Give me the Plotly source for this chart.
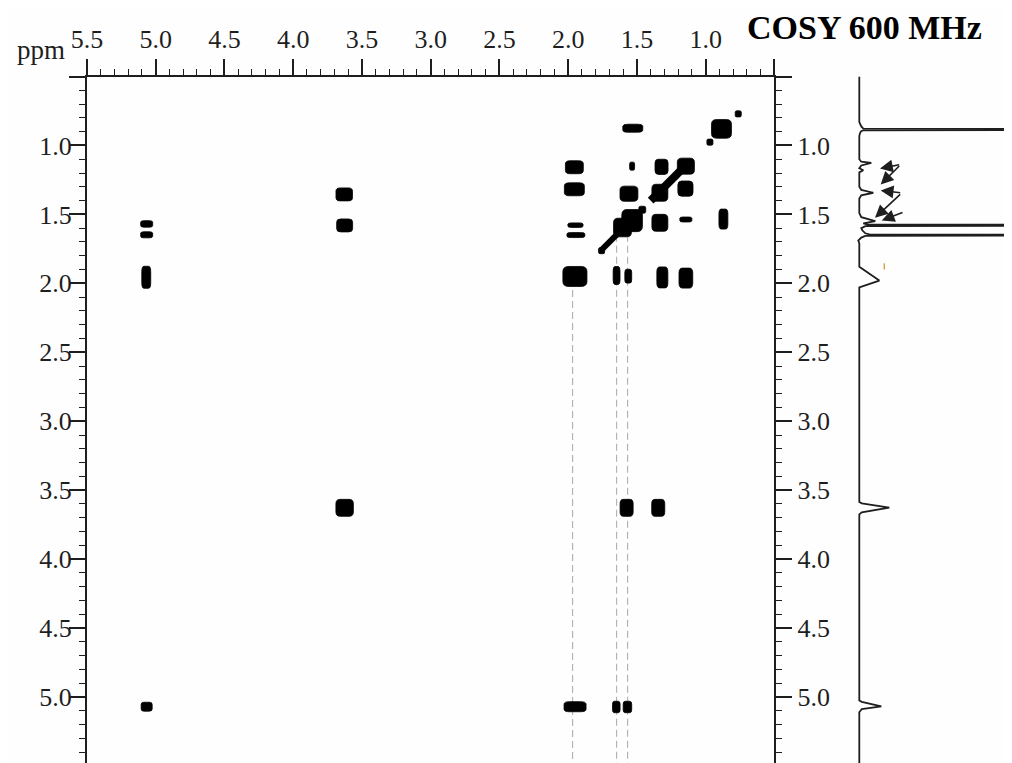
import plotly.graph_objects as go

# ---------------- data ----------------
# 2D COSY cross/diagonal peaks: F2 shift (x, ppm), F1 shift (y, ppm), width/height (ppm)
peak_f2 = [1.530, 0.885, 0.969, 0.763, 1.955, 1.955, 1.947, 1.944, 1.951, 1.535,
           1.558, 1.321, 1.144, 1.147, 1.333, 1.461, 1.535, 1.605, 1.757, 1.333,
           1.144, 0.871, 1.648, 1.563, 1.315, 1.144, 5.066, 5.066, 5.069, 5.066,
           3.629, 3.626, 3.626, 1.575, 1.345, 1.950, 1.650, 1.569]
peak_f1 = [0.875, 0.880, 0.976, 0.771, 1.158, 1.318, 1.578, 1.650, 1.950, 1.150,
           1.350, 1.155, 1.150, 1.313, 1.343, 1.466, 1.545, 1.595, 1.763, 1.561,
           1.537, 1.534, 1.943, 1.948, 1.957, 1.962, 1.569, 1.648, 1.956, 5.070,
           1.355, 1.580, 3.628, 3.628, 3.628, 5.070, 5.072, 5.072]
peak_w = [0.145, 0.145, 0.044, 0.044, 0.130, 0.145, 0.110, 0.130, 0.175, 0.036,
          0.130, 0.095, 0.124, 0.110, 0.116, 0.050, 0.150, 0.130, 0.044, 0.116,
          0.087, 0.065, 0.050, 0.050, 0.080, 0.100, 0.087, 0.087, 0.065, 0.080,
          0.120, 0.116, 0.127, 0.095, 0.095, 0.160, 0.055, 0.062]
peak_h = [0.058, 0.135, 0.044, 0.044, 0.094, 0.094, 0.033, 0.036, 0.145, 0.058,
          0.110, 0.110, 0.116, 0.110, 0.123, 0.050, 0.160, 0.135, 0.044, 0.123,
          0.036, 0.145, 0.130, 0.100, 0.152, 0.145, 0.047, 0.044, 0.160, 0.065,
          0.094, 0.094, 0.123, 0.123, 0.123, 0.073, 0.083, 0.083]

# diagonal ridges (ppm from -> to, along the diagonal)
diag_from = [1.13, 1.50]
diag_to = [1.40, 1.76]

# guide lines (F2 ppm) drawn as dashed verticals
guide_f2 = [1.968, 1.648, 1.568]

# 1D projection (F1 ppm vs. intensity, arbitrary units)
spec_ppm = [0.50, 0.83, 0.862, 0.878, 0.884, 0.890, 0.897, 0.905, 0.930,
            1.100, 1.118, 1.126, 1.145, 1.165, 1.180, 1.195, 1.210,
            1.300, 1.322, 1.343, 1.362, 1.385,
            1.490, 1.520, 1.548, 1.565, 1.573, 1.579, 1.585, 1.600, 1.615, 1.637,
            1.645, 1.650, 1.656, 1.668, 1.690, 1.710,
            1.880, 1.980, 2.030,
            3.585, 3.595, 3.626, 3.660, 3.675,
            5.025, 5.035, 5.068, 5.087, 5.110, 5.540]
spec_int = [0, 0, 2, 4, 400, 4, 2, 1, 0,
            0, 2, 12, 2, 0, 4, 0, 0,
            0, 2, 14, 2, 0,
            0, 2, 16, 4, 8, 400, 6, 2, 3, 6,
            10, 400, 6, 2, -1, 0,
            0, 20, 0,
            0, 2.5, 30, 2.5, 0,
            0, 2.5, 22, 2.5, 0, 0]

# small orange mark beside the 1D trace (intensity, ppm span)
mark_int = [25, 25]
mark_ppm = [1.855, 1.900]

# annotation arrows in the 1D trace (tail -> head), intensity / ppm
arrow_tail_int = [41.4, 41.4, 42.4, 42.4, 44.7]
arrow_tail_ppm = [1.138, 1.138, 1.344, 1.344, 1.482]
arrow_head_int = [20.7, 21.4, 21.4, 15.7, 22.4]
arrow_head_ppm = [1.167, 1.283, 1.326, 1.525, 1.544]

# axis ticks
major_ticks = [5.5, 5.0, 4.5, 4.0, 3.5, 3.0, 2.5, 2.0, 1.5, 1.0, 0.5]
x_ticktext = ["5.5", "5.0", "4.5", "4.0", "3.5", "3.0", "2.5", "2.0", "1.5", "1.0", ""]
y_ticktext = ["", "5.0", "4.5", "4.0", "3.5", "3.0", "2.5", "2.0", "1.5", "1.0", ""]

title_text = "COSY 600 MHz"
unit_text = "ppm"

# ---------------- styling ----------------
W, H = 1012, 763
OFF = 8  # page body margin of the exported html


def px(p):
    return (p - OFF) / W


def py(p):
    return 1 - (p - OFF) / H


INK = "#1e1e1e"
FONT = "Liberation Serif, Times New Roman, serif"
X_RANGE = [5.5, 0.5]
TOP_PX = 76.5
Y_SCALE = 137.9  # px per ppm
Y_RANGE = [0.5 + (H + OFF - TOP_PX) / Y_SCALE, 0.5]
Y_DOM = [0, py(TOP_PX)]
X_DOM = [px(87.0), px(774.4)]

fig = go.Figure()

# invisible anchor trace for the 2D subplot (peak centres)
fig.add_trace(go.Scatter(x=peak_f2, y=peak_f1, mode="markers",
                         marker=dict(size=2, color=INK, opacity=0),
                         hoverinfo="skip", showlegend=False,
                         xaxis="x", yaxis="y"))

# dashed guide lines (on right-hand y axis, same scale)
gx, gy = [], []
for g in guide_f2:
    gx += [g, g, None]
    gy += [g, Y_RANGE[0], None]
fig.add_trace(go.Scatter(x=gx, y=gy, mode="lines",
                         line=dict(color="#b4b4b4", width=1.2, dash="7px,4px"),
                         hoverinfo="skip", showlegend=False,
                         xaxis="x", yaxis="y2"))

# 1D spectrum
fig.add_trace(go.Scatter(x=spec_int, y=spec_ppm, mode="lines",
                         line=dict(color=INK, width=1.8),
                         hoverinfo="skip", showlegend=False,
                         xaxis="x2", yaxis="y3"))
fig.add_trace(go.Scatter(x=mark_int, y=mark_ppm, mode="lines",
                         line=dict(color="#e0953a", width=1.3),
                         hoverinfo="skip", showlegend=False,
                         xaxis="x2", yaxis="y3"))

shapes = []
# diagonal ridges
for a, b, wd in zip(diag_from, diag_to, [8, 6]):
    shapes.append(dict(type="line", xref="x", yref="y", x0=a, y0=a, x1=b, y1=b,
                       line=dict(color="black", width=wd), layer="above"))

# peaks as rounded blobs
k = 0.5
for cx, cy, w, h in zip(peak_f2, peak_f1, peak_w, peak_h):
    a, b = w / 2, h / 2
    x0, x1, y0, y1 = cx - a, cx + a, cy - b, cy + b
    rx, ry = k * a, k * b
    p = (f"M {x0+rx},{y0} L {x1-rx},{y0} Q {x1},{y0} {x1},{y0+ry} "
         f"L {x1},{y1-ry} Q {x1},{y1} {x1-rx},{y1} L {x0+rx},{y1} "
         f"Q {x0},{y1} {x0},{y1-ry} L {x0},{y0+ry} Q {x0},{y0} {x0+rx},{y0} Z")
    shapes.append(dict(type="path", xref="x", yref="y", path=p,
                       fillcolor="black", line=dict(color="black", width=0.8),
                       layer="above"))

annotations = []
for ti, tp, hi, hp in zip(arrow_tail_int, arrow_tail_ppm, arrow_head_int, arrow_head_ppm):
    annotations.append(dict(x=hi, y=hp, ax=ti, ay=tp, xref="x2", yref="y3",
                            axref="x2", ayref="y3", text="", showarrow=True,
                            arrowhead=2, arrowsize=1.6, arrowwidth=1.6,
                            arrowcolor=INK))

annotations.append(dict(text=unit_text, x=px(67), y=py(50), xref="paper", yref="paper",
                        xanchor="right", yanchor="middle", showarrow=False,
                        font=dict(family=FONT, size=27, color=INK)))
annotations.append(dict(text=f"<b>{title_text}</b>", x=px(745), y=py(27),
                        xref="paper", yref="paper", xanchor="left", yanchor="middle",
                        showarrow=False, font=dict(family=FONT, size=34, color="black")))

tickfont = dict(family=FONT, size=26, color=INK)
minor = dict(tickmode="linear", tick0=0.5, dtick=0.1, ticklen=6, tickwidth=1.4,
             tickcolor=INK, ticks="outside", showgrid=False)

common = dict(showline=True, linecolor=INK, linewidth=2,
              ticks="outside", ticklen=16, tickwidth=1.6, tickcolor=INK,
              tickmode="array", tickvals=major_ticks,
              tickfont=tickfont, minor=minor, showgrid=False, zeroline=False,
              automargin=False)

fig.update_layout(
    width=W, height=H,
    margin=dict(l=0, r=0, t=0, b=0, autoexpand=False),
    paper_bgcolor="#fefefe", plot_bgcolor="#fefefe",
    showlegend=False,
    shapes=shapes, annotations=annotations,
    xaxis=dict(domain=X_DOM, range=X_RANGE, side="top", anchor="y",
               ticktext=x_ticktext, **common),
    yaxis=dict(domain=Y_DOM, range=Y_RANGE, side="left", anchor="x",
               ticktext=y_ticktext, ticklabelstandoff=-8, **common),
    yaxis2=dict(domain=Y_DOM, range=Y_RANGE, side="right", anchor="x", overlaying="y",
                ticktext=y_ticktext, **common),
    xaxis2=dict(domain=[px(850), px(850) + 162 / W], range=[-9.3, 152.7], anchor="y3",
                visible=False, showgrid=False, zeroline=False),
    yaxis3=dict(domain=Y_DOM, range=Y_RANGE, anchor="x2", visible=False,
                showgrid=False, zeroline=False),
)

fig.write_html("out.html", config=dict(displayModeBar=False))
